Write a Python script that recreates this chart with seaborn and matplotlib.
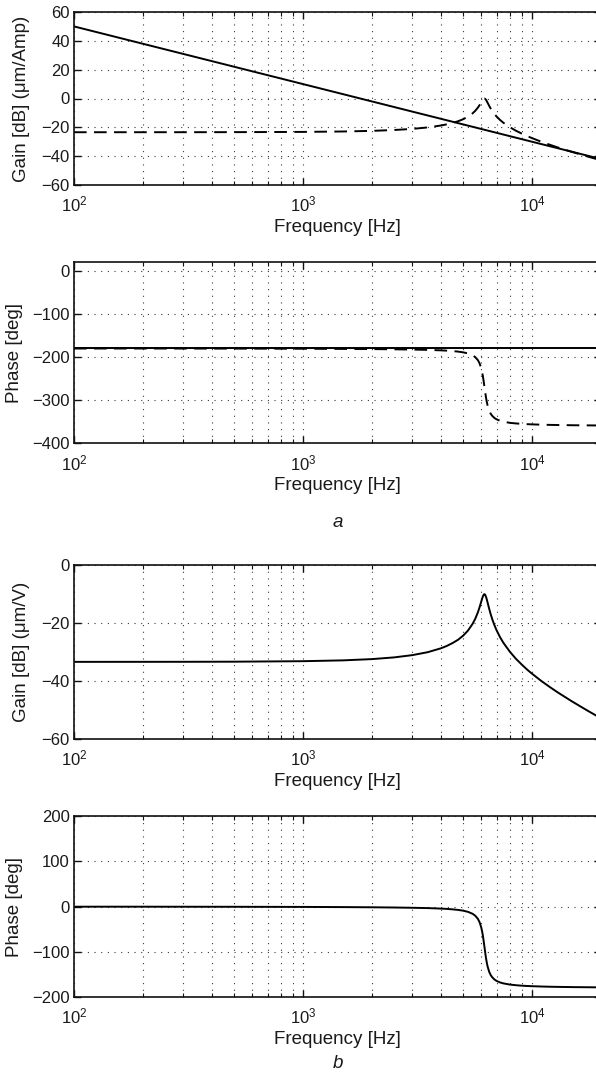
import matplotlib
matplotlib.use("Agg")
import matplotlib.pyplot as plt
import pandas as pd
import seaborn as sns
from matplotlib.ticker import FixedLocator, LogLocator, NullFormatter

# ---------------------------------------------------------------------------
# Frequency response data
# ---------------------------------------------------------------------------
# Sample frequencies for the resonant responses [Hz]
freq_hz = [100, 200, 300, 500, 1000, 1500, 2000, 2500, 3000, 3500, 4000,
           4250, 4500, 4750, 5000, 5250, 5500, 5650, 5800, 5900, 6000, 6050,
           6100, 6150, 6200, 6250, 6300, 6350, 6400, 6500, 6600, 6700, 6850,
           7000, 7250, 7500, 8000, 8500, 9000, 9500, 10000, 11000, 12000,
           13000, 15000, 17500, 20000]

# (a) current-driven stage: rigid-body line and resonant mode
freq_rigid_hz = [100, 1000, 10000, 20000]
gain_rigid_db = [50.0, 10.0, -30.0, -42.0]
phase_rigid_deg = [-180.0, -180.0, -180.0, -180.0]

gain_mode_db = [-23.40, -23.39, -23.38, -23.34, -23.17, -22.88, -22.45,
                -21.86, -21.08, -20.07, -18.73, -17.89, -16.90, -15.79,
                -14.38, -12.61, -10.30, -8.53, -6.33, -4.57, -2.62, -1.65,
                -0.81, -0.22, -0.05, -0.36, -1.06, -2.00, -3.05, -5.13,
                -7.01, -8.66, -10.75, -12.50, -14.90, -16.85, -19.91,
                -22.33, -24.28, -26.01, -27.49, -30.05, -32.17, -34.02,
                -37.12, -40.26, -42.87]
phase_mode_deg = [-180.1, -180.1, -180.2, -180.3, -180.6, -181.0, -181.4,
                  -181.9, -182.5, -183.2, -184.3, -185.0, -186.0, -187.2,
                  -188.9, -191.5, -195.8, -200.1, -207.0, -214.4, -226.0,
                  -234.2, -244.4, -256.6, -270.0, -283.3, -295.2, -305.1,
                  -313.0, -324.3, -331.5, -336.3, -341.2, -344.4, -347.8,
                  -349.9, -352.5, -353.9, -354.9, -355.6, -356.1, -356.8,
                  -357.3, -357.6, -358.1, -358.4, -358.7]

# (b) voltage-driven response
gain_volt_db = [-33.40, -33.39, -33.38, -33.34, -33.17, -32.88, -32.45,
                -31.86, -31.08, -30.07, -28.73, -27.89, -26.90, -25.79,
                -24.38, -22.61, -20.30, -18.53, -16.33, -14.57, -12.62,
                -11.65, -10.81, -10.22, -10.05, -10.36, -11.06, -12.00,
                -13.05, -15.13, -17.01, -18.66, -20.75, -22.50, -24.90,
                -26.85, -29.91, -32.33, -34.28, -36.01, -37.49, -40.05,
                -42.17, -44.02, -47.12, -50.26, -52.87]
phase_volt_deg = [-0.1, -0.1, -0.2, -0.3, -0.6, -1.0, -1.4, -1.9, -2.5, -3.2,
                  -4.3, -5.0, -6.0, -7.2, -8.9, -11.5, -15.8, -20.1, -27.0,
                  -34.4, -46.0, -54.2, -64.4, -76.6, -90.0, -103.3, -115.2,
                  -125.1, -133.0, -144.3, -151.5, -156.3, -161.2, -164.4,
                  -167.8, -169.9, -172.5, -173.9, -174.9, -175.6, -176.1,
                  -176.8, -177.3, -177.6, -178.1, -178.4, -178.7]

decade_ticks = [1e2, 1e3, 1e4]
decade_labels = ["$10^{2}$", "$10^{3}$", "$10^{4}$"]
freq_limits = (100, 20000)
x_label = "Frequency [Hz]"

# ---------------------------------------------------------------------------
# Style
# ---------------------------------------------------------------------------
sns.set_style("ticks")
plt.rcParams["font.family"] = ["Liberation Sans", "DejaVu Sans"]
plt.rcParams["mathtext.fontset"] = "custom"
plt.rcParams["mathtext.rm"] = "Liberation Sans"
plt.rcParams["mathtext.it"] = "Liberation Sans:italic"
plt.rcParams["mathtext.default"] = "regular"
plt.rcParams["axes.unicode_minus"] = True

W, H = 596, 1075
fig = plt.figure(figsize=(W / 100, H / 100), dpi=100)

LEFT_PX, RIGHT_PX = 74, 601
GRID_STYLE = dict(linestyle=(0, (1, 5)), color="#3a3a3a", linewidth=0.8)
DASH = (6.5, 3.8)
LW = 1.4
LABEL_SIZE = 13.5


def make_axes(top_px, bottom_px):
    return fig.add_axes([LEFT_PX / W, 1 - bottom_px / H,
                         (RIGHT_PX - LEFT_PX) / W, (bottom_px - top_px) / H])


def draw_traces(ax, traces):
    frames = []
    for name, xs, ys in traces:
        frames.append(pd.DataFrame({"freq": xs, "value": ys, "trace": name}))
    df = pd.concat(frames, ignore_index=True)
    dash_map = {name: ("" if name.endswith("solid") else DASH)
                for name, _, _ in traces}
    sns.lineplot(data=df, x="freq", y="value", style="trace", dashes=dash_map,
                 color="black", linewidth=LW, legend=False, ax=ax,
                 estimator=None, sort=False)


def style_axes(ax, ylim, yticks, ylabel, ylabel_x_px):
    ax.set_xscale("log")
    ax.set_xlim(*freq_limits)
    ax.set_ylim(*ylim)
    ax.xaxis.set_major_locator(FixedLocator(decade_ticks))
    ax.set_xticklabels(decade_labels)
    ax.xaxis.set_minor_locator(LogLocator(base=10, subs=range(2, 10)))
    ax.xaxis.set_minor_formatter(NullFormatter())
    ax.set_yticks(yticks)
    ax.grid(which="major", axis="both", **GRID_STYLE)
    ax.grid(which="minor", axis="x", **GRID_STYLE)
    ax.set_axisbelow(True)
    for sp in ax.spines.values():
        sp.set_linewidth(1.2)
        sp.set_color("#111111")
        sp.set_visible(True)
    ax.tick_params(which="both", direction="in", top=True, right=True,
                   colors="#111111", labelcolor="#1a1a1a", labelsize=12)
    ax.tick_params(which="major", length=5, width=1.0)
    ax.tick_params(which="minor", length=3, width=0.8)
    ax.tick_params(axis="x", which="major", pad=7)
    ax.tick_params(axis="y", which="major", pad=3)

    h_px = ax.get_position().height * H
    w_px = ax.get_position().width * W
    ax.set_xlabel(x_label, fontsize=LABEL_SIZE, color="#1a1a1a", va="center")
    ax.xaxis.set_label_coords(0.5, -42 / h_px)
    ax.set_ylabel(ylabel, fontsize=LABEL_SIZE, color="#1a1a1a", va="center")
    ax.yaxis.set_label_coords((ylabel_x_px - LEFT_PX) / w_px, 0.5)


# (a) gain
ax1 = make_axes(12, 185)
draw_traces(ax1, [("rigid solid", freq_rigid_hz, gain_rigid_db),
                  ("mode dashed", freq_hz, gain_mode_db)])
style_axes(ax1, (-60, 60), [-60, -40, -20, 0, 20, 40, 60],
           "Gain [dB] (μm/Amp)", 22)

# (a) phase
ax2 = make_axes(262.3, 443.3)
draw_traces(ax2, [("mode dashed", freq_hz, phase_mode_deg),
                  ("rigid solid", freq_rigid_hz, phase_rigid_deg)])
style_axes(ax2, (-400, 20), [-400, -300, -200, -100, 0],
           "Phase [deg]", 15)

# (b) gain
ax3 = make_axes(565, 739)
draw_traces(ax3, [("volt solid", freq_hz, gain_volt_db)])
style_axes(ax3, (-60, 0), [-60, -40, -20, 0], "Gain [dB] (μm/V)", 22)

# (b) phase
ax4 = make_axes(816.3, 997)
draw_traces(ax4, [("volt solid", freq_hz, phase_volt_deg)])
style_axes(ax4, (-200, 200), [-200, -100, 0, 100, 200], "Phase [deg]", 15)

fig.text(337.5 / W, 1 - 522 / H, "a", fontsize=LABEL_SIZE, style="italic",
         ha="center", va="center", color="#1a1a1a")
fig.text(337.5 / W, 1 - 1063 / H, "b", fontsize=LABEL_SIZE, style="italic",
         ha="center", va="center", color="#1a1a1a")

fig.savefig("out.png", dpi=100)
